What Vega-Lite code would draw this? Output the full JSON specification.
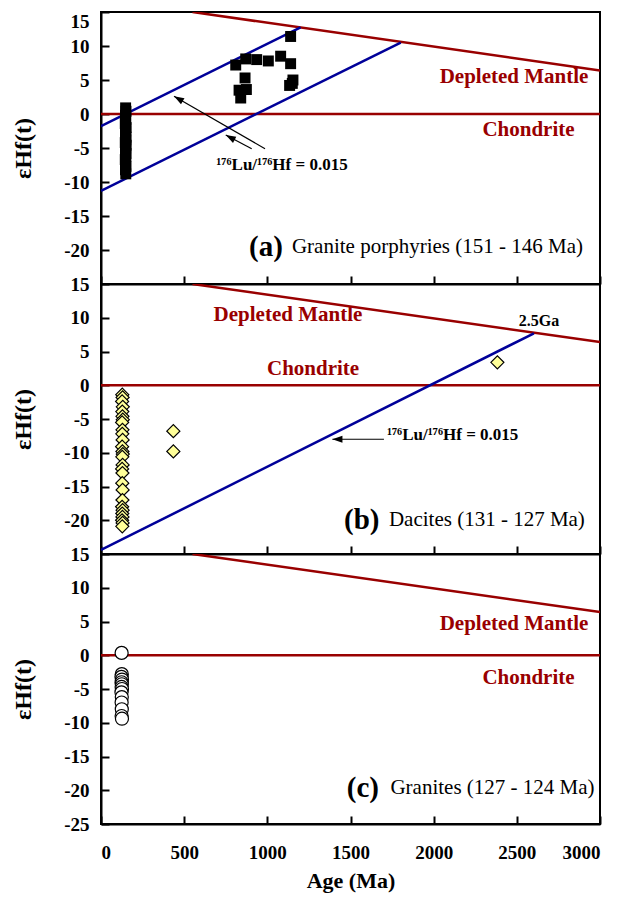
{
  "$schema": "https://vega.github.io/schema/vega-lite/v6.json",
  "padding": {"left": 10, "top": 10, "right": 32, "bottom": 4},
  "spacing": 0,
  "bounds": "flush",
  "resolve": {"scale": {"x": "independent", "y": "independent"}},
  "config": {
    "view": {"stroke": "black", "strokeWidth": 2},
    "font": "Liberation Serif",
    "axis": {"labelFont": "Liberation Serif", "labelFontWeight": "bold", "labelFontSize": 19, "labelColor": "black", "titleFont": "Liberation Serif", "titleFontWeight": "bold", "titleColor": "black", "domainColor": "black", "domainWidth": 2, "tickColor": "black", "tickWidth": 2, "tickSize": -8, "grid": false, "labelOverlap": false, "labelExpr": "'' + datum.value"},
    "text": {"font": "Liberation Serif"}
  },
  "datasets": {
    "ref": [
      {"line": "DM", "age": 550, "eps": 15}, {"line": "DM", "age": 3000, "eps": 6.4},
      {"line": "CHUR", "age": 0, "eps": 0}, {"line": "CHUR", "age": 3000, "eps": 0}
    ],
    "lu": [
      {"panel": "a", "line": "u", "age": 0, "eps": -1.8}, {"panel": "a", "line": "u", "age": 1200, "eps": 12.75},
      {"panel": "a", "line": "l", "age": 0, "eps": -11.3}, {"panel": "a", "line": "l", "age": 1802, "eps": 10.5},
      {"panel": "b", "line": "b", "age": 0, "eps": -24.4}, {"panel": "b", "line": "b", "age": 2603, "eps": 7.7}
    ],
    "arrows": [
      {"panel": "a", "id": 1, "age": 986, "eps": -5.1, "age2": 439, "eps2": 2.6},
      {"panel": "a", "id": 2, "age": 906, "eps": -5.1, "age2": 750, "eps2": -3.1},
      {"panel": "b", "id": 3, "age": 1701, "eps": -8.0, "age2": 1391, "eps2": -8.0}
    ],
    "heads": [
      {"id": 1, "age": 439, "eps": 2.6},
      {"id": 2, "age": 750, "eps": -3.1},
      {"id": 3, "age": 1391, "eps": -8.0}
    ],
    "squares": [
      {"age": 148, "eps": 0.9}, {"age": 150, "eps": 0.4}, {"age": 147, "eps": -0.2}, {"age": 149, "eps": -0.8},
      {"age": 146, "eps": -1.4}, {"age": 151, "eps": -2.0}, {"age": 148, "eps": -2.5}, {"age": 147, "eps": -3.0},
      {"age": 150, "eps": -3.4}, {"age": 149, "eps": -3.8}, {"age": 146, "eps": -4.2}, {"age": 151, "eps": -4.6},
      {"age": 148, "eps": -5.0}, {"age": 147, "eps": -5.4}, {"age": 150, "eps": -5.8}, {"age": 149, "eps": -6.2},
      {"age": 146, "eps": -6.7}, {"age": 148, "eps": -7.2}, {"age": 150, "eps": -7.7}, {"age": 147, "eps": -8.2},
      {"age": 149, "eps": -8.8},
      {"age": 810, "eps": 7.2}, {"age": 870, "eps": 8.1}, {"age": 936, "eps": 8.0}, {"age": 1006, "eps": 7.8},
      {"age": 1080, "eps": 8.5}, {"age": 1140, "eps": 7.4}, {"age": 1140, "eps": 11.4}, {"age": 866, "eps": 5.3},
      {"age": 830, "eps": 3.5}, {"age": 874, "eps": 3.6}, {"age": 840, "eps": 2.35}, {"age": 1154, "eps": 5.0},
      {"age": 1134, "eps": 4.2}, {"age": 1150, "eps": 4.5}
    ],
    "diamonds": [
      {"age": 128, "eps": -1.4}, {"age": 130, "eps": -1.8}, {"age": 127, "eps": -2.4}, {"age": 131, "eps": -3.2},
      {"age": 128, "eps": -3.9}, {"age": 129, "eps": -4.6}, {"age": 131, "eps": -5.1}, {"age": 127, "eps": -5.5},
      {"age": 129, "eps": -6.6}, {"age": 128, "eps": -7.2}, {"age": 130, "eps": -8.1}, {"age": 127, "eps": -9.1},
      {"age": 129, "eps": -9.8}, {"age": 131, "eps": -10.2}, {"age": 128, "eps": -10.6}, {"age": 130, "eps": -11.8},
      {"age": 127, "eps": -12.4}, {"age": 129, "eps": -13.0}, {"age": 128, "eps": -14.5}, {"age": 130, "eps": -15.5},
      {"age": 129, "eps": -17.0}, {"age": 127, "eps": -18.0}, {"age": 130, "eps": -18.5}, {"age": 128, "eps": -19.0},
      {"age": 129, "eps": -19.5}, {"age": 127, "eps": -20.0}, {"age": 130, "eps": -20.4}, {"age": 128, "eps": -20.9},
      {"age": 435, "eps": -6.8}, {"age": 435, "eps": -9.8}, {"age": 2383, "eps": 3.4}
    ],
    "circles": [
      {"age": 124, "eps": 0.35}, {"age": 125, "eps": -2.8}, {"age": 123, "eps": -3.2}, {"age": 126, "eps": -3.6},
      {"age": 124, "eps": -4.0}, {"age": 125, "eps": -4.3}, {"age": 124, "eps": -4.7}, {"age": 126, "eps": -5.0},
      {"age": 123, "eps": -5.5}, {"age": 125, "eps": -6.2}, {"age": 124, "eps": -7.0}, {"age": 125, "eps": -8.0},
      {"age": 124, "eps": -9.0}, {"age": 126, "eps": -9.4}
    ],
    "labels": [
      {"panel": "a", "kind": "red", "age": 2483, "eps": 5.4, "text": "Depleted Mantle"},
      {"panel": "a", "kind": "red", "age": 2570, "eps": -2.35, "text": "Chondrite"},
      {"panel": "a", "kind": "small", "age": 1088, "eps": -7.5, "text": "¹⁷⁶Lu/¹⁷⁶Hf = 0.015"},
      {"panel": "a", "kind": "letter", "age": 890, "eps": -19.6, "text": "(a)"},
      {"panel": "a", "kind": "sub", "age": 1148, "eps": -19.6, "text": "Granite porphyries (151 - 146 Ma)"},
      {"panel": "b", "kind": "red", "age": 1124, "eps": 10.4, "text": "Depleted Mantle"},
      {"panel": "b", "kind": "red", "age": 1275, "eps": 2.4, "text": "Chondrite"},
      {"panel": "b", "kind": "small", "age": 2633, "eps": 9.5, "text": "2.5Ga"},
      {"panel": "b", "kind": "smallleft", "age": 1719, "eps": -7.4, "text": "¹⁷⁶Lu/¹⁷⁶Hf = 0.015"},
      {"panel": "b", "kind": "letter", "age": 1461, "eps": -20, "text": "(b)"},
      {"panel": "b", "kind": "sub", "age": 1731, "eps": -20, "text": "Dacites (131 - 127 Ma)"},
      {"panel": "c", "kind": "red", "age": 2483, "eps": 4.7, "text": "Depleted Mantle"},
      {"panel": "c", "kind": "red", "age": 2570, "eps": -3.3, "text": "Chondrite"},
      {"panel": "c", "kind": "letter", "age": 1478, "eps": -19.6, "text": "(c)"},
      {"panel": "c", "kind": "sub", "age": 1740, "eps": -19.6, "text": "Granites (127 - 124 Ma)"}
    ]
  },
  "vconcat": [
    {
      "width": 499, "height": 272,
      "encoding": {
        "x": {"field": "age", "type": "quantitative", "scale": {"domain": [0, 3000], "nice": false, "zero": false}, "axis": {"values": [0, 500, 1000, 1500, 2000, 2500, 3000], "labels": false, "title": null}},
        "y": {"field": "eps", "type": "quantitative", "scale": {"domain": [-25, 15], "nice": false, "zero": false}, "axis": {"values": [15, 10, 5, 0, -5, -10, -15, -20], "labelFlush": true, "title": "εHf(t)", "titleFontSize": 24, "titlePadding": 28, "labelPadding": 20}}
      },
      "layer": [
        {"data": {"name": "ref"}, "mark": {"type": "line", "color": "#990000", "strokeWidth": 2.5, "clip": true}, "encoding": {"detail": {"field": "line", "type": "nominal"}}},
        {"data": {"name": "lu"}, "transform": [{"filter": "datum.panel=='a'"}], "mark": {"type": "line", "color": "#000099", "strokeWidth": 2.5, "clip": true}, "encoding": {"detail": {"field": "line", "type": "nominal"}}},
        {"data": {"name": "arrows"}, "transform": [{"filter": "datum.panel=='a'"}], "mark": {"type": "rule", "color": "black", "strokeWidth": 1.2}, "encoding": {"x2": {"field": "age2"}, "y2": {"field": "eps2"}}},
        {"data": {"name": "heads"}, "transform": [{"filter": "datum.id==1"}], "mark": {"type": "point", "shape": "M0,0L-0.45,1.3L0.45,1.3Z", "filled": true, "color": "black", "opacity": 1, "size": 240, "angle": 300}},
        {"data": {"name": "heads"}, "transform": [{"filter": "datum.id==2"}], "mark": {"type": "point", "shape": "M0,0L-0.45,1.3L0.45,1.3Z", "filled": true, "color": "black", "opacity": 1, "size": 240, "angle": 298}},
        {"data": {"name": "squares"}, "mark": {"type": "point", "shape": "square", "filled": true, "color": "black", "opacity": 1, "size": 120}},
        {"data": {"name": "labels"}, "transform": [{"filter": "datum.panel=='a' && datum.kind=='red'"}], "mark": {"type": "text", "font": "Liberation Serif", "fontWeight": "bold", "fontSize": 21, "color": "#990000", "align": "center", "baseline": "middle"}, "encoding": {"text": {"field": "text"}}},
        {"data": {"name": "labels"}, "transform": [{"filter": "datum.panel=='a' && datum.kind=='small'"}], "mark": {"type": "text", "font": "Liberation Serif", "fontWeight": "bold", "fontSize": 17, "color": "black", "align": "center", "baseline": "middle"}, "encoding": {"text": {"field": "text"}}},
        {"data": {"name": "labels"}, "transform": [{"filter": "datum.panel=='a' && datum.kind=='letter'"}], "mark": {"type": "text", "font": "Liberation Serif", "fontWeight": "bold", "fontSize": 29, "color": "black", "align": "left", "baseline": "middle"}, "encoding": {"text": {"field": "text"}}},
        {"data": {"name": "labels"}, "transform": [{"filter": "datum.panel=='a' && datum.kind=='sub'"}], "mark": {"type": "text", "font": "Liberation Serif", "fontSize": 21, "color": "black", "align": "left", "baseline": "middle"}, "encoding": {"text": {"field": "text"}}}
      ]
    },
    {
      "width": 499, "height": 270,
      "encoding": {
        "x": {"field": "age", "type": "quantitative", "scale": {"domain": [0, 3000], "nice": false, "zero": false}, "axis": {"values": [0, 500, 1000, 1500, 2000, 2500, 3000], "labels": false, "title": null}},
        "y": {"field": "eps", "type": "quantitative", "scale": {"domain": [-25, 15], "nice": false, "zero": false}, "axis": {"values": [15, 10, 5, 0, -5, -10, -15, -20], "title": "εHf(t)", "titleFontSize": 24, "titlePadding": 28, "labelPadding": 20}}
      },
      "layer": [
        {"data": {"name": "ref"}, "mark": {"type": "line", "color": "#990000", "strokeWidth": 2.5, "clip": true}, "encoding": {"detail": {"field": "line", "type": "nominal"}}},
        {"data": {"name": "lu"}, "transform": [{"filter": "datum.panel=='b'"}], "mark": {"type": "line", "color": "#000099", "strokeWidth": 2.5, "clip": true}, "encoding": {"detail": {"field": "line", "type": "nominal"}}},
        {"data": {"name": "arrows"}, "transform": [{"filter": "datum.panel=='b'"}], "mark": {"type": "rule", "color": "black", "strokeWidth": 1.2}, "encoding": {"x2": {"field": "age2"}, "y2": {"field": "eps2"}}},
        {"data": {"name": "heads"}, "transform": [{"filter": "datum.id==3"}], "mark": {"type": "point", "shape": "M0,0L-0.45,1.3L0.45,1.3Z", "filled": true, "color": "black", "opacity": 1, "size": 240, "angle": 270}},
        {"data": {"name": "diamonds"}, "mark": {"type": "point", "shape": "diamond", "filled": true, "fill": "#FFFF99", "stroke": "black", "strokeWidth": 1.2, "opacity": 1, "size": 170}},
        {"data": {"name": "labels"}, "transform": [{"filter": "datum.panel=='b' && datum.kind=='red'"}], "mark": {"type": "text", "font": "Liberation Serif", "fontWeight": "bold", "fontSize": 21, "color": "#990000", "align": "center", "baseline": "middle"}, "encoding": {"text": {"field": "text"}}},
        {"data": {"name": "labels"}, "transform": [{"filter": "datum.panel=='b' && datum.kind=='small'"}], "mark": {"type": "text", "font": "Liberation Serif", "fontWeight": "bold", "fontSize": 16, "color": "black", "align": "center", "baseline": "middle"}, "encoding": {"text": {"field": "text"}}},
        {"data": {"name": "labels"}, "transform": [{"filter": "datum.panel=='b' && datum.kind=='smallleft'"}], "mark": {"type": "text", "font": "Liberation Serif", "fontWeight": "bold", "fontSize": 17, "color": "black", "align": "left", "baseline": "middle"}, "encoding": {"text": {"field": "text"}}},
        {"data": {"name": "labels"}, "transform": [{"filter": "datum.panel=='b' && datum.kind=='letter'"}], "mark": {"type": "text", "font": "Liberation Serif", "fontWeight": "bold", "fontSize": 29, "color": "black", "align": "left", "baseline": "middle"}, "encoding": {"text": {"field": "text"}}},
        {"data": {"name": "labels"}, "transform": [{"filter": "datum.panel=='b' && datum.kind=='sub'"}], "mark": {"type": "text", "font": "Liberation Serif", "fontSize": 21, "color": "black", "align": "left", "baseline": "middle"}, "encoding": {"text": {"field": "text"}}}
      ]
    },
    {
      "width": 499, "height": 270,
      "encoding": {
        "x": {"field": "age", "type": "quantitative", "scale": {"domain": [0, 3000], "nice": false, "zero": false}, "axis": {"values": [0, 500, 1000, 1500, 2000, 2500, 3000], "labelFlush": true, "title": "Age (Ma)", "titleFontSize": 22, "labelPadding": 27, "titlePadding": 8}},
        "y": {"field": "eps", "type": "quantitative", "scale": {"domain": [-25, 15], "nice": false, "zero": false}, "axis": {"values": [15, 10, 5, 0, -5, -10, -15, -20, -25], "title": "εHf(t)", "titleFontSize": 24, "titlePadding": 28, "labelPadding": 20}}
      },
      "layer": [
        {"data": {"name": "ref"}, "mark": {"type": "line", "color": "#990000", "strokeWidth": 2.5, "clip": true}, "encoding": {"detail": {"field": "line", "type": "nominal"}}},
        {"data": {"name": "circles"}, "mark": {"type": "point", "shape": "circle", "filled": true, "fill": "white", "stroke": "black", "strokeWidth": 1.2, "opacity": 1, "size": 170}},
        {"data": {"name": "labels"}, "transform": [{"filter": "datum.panel=='c' && datum.kind=='red'"}], "mark": {"type": "text", "font": "Liberation Serif", "fontWeight": "bold", "fontSize": 21, "color": "#990000", "align": "center", "baseline": "middle"}, "encoding": {"text": {"field": "text"}}},
        {"data": {"name": "labels"}, "transform": [{"filter": "datum.panel=='c' && datum.kind=='letter'"}], "mark": {"type": "text", "font": "Liberation Serif", "fontWeight": "bold", "fontSize": 29, "color": "black", "align": "left", "baseline": "middle"}, "encoding": {"text": {"field": "text"}}},
        {"data": {"name": "labels"}, "transform": [{"filter": "datum.panel=='c' && datum.kind=='sub'"}], "mark": {"type": "text", "font": "Liberation Serif", "fontSize": 21, "color": "black", "align": "left", "baseline": "middle"}, "encoding": {"text": {"field": "text"}}}
      ]
    }
  ]
}
